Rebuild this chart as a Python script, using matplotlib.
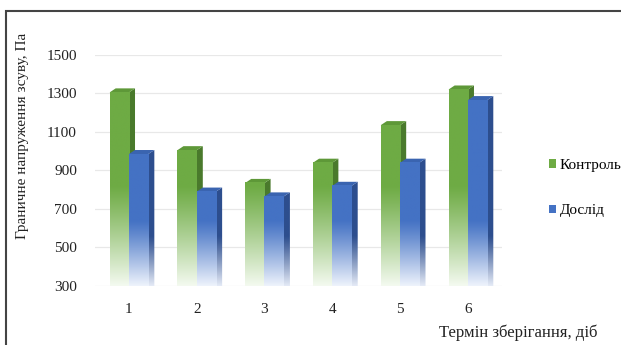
import numpy as np
import matplotlib
matplotlib.use("Agg")
import matplotlib.pyplot as plt
from matplotlib.patches import Polygon, Rectangle, Patch
from matplotlib.colors import to_rgba

categories = ["1", "2", "3", "4", "5", "6"]
control = [1305, 1005, 835, 940, 1135, 1320]
experiment = [985, 790, 765, 820, 940, 1265]
series_names = ["Контроль", "Дослід"]
yticks = [300, 500, 700, 900, 1100, 1300, 1500]

plt.rcParams["font.family"] = ["Liberation Serif", "DejaVu Serif"]

fig = plt.figure(figsize=(6.21, 3.45), dpi=100)
ax = fig.add_axes([0.153, 0.171, 0.655, 0.670])
ax.set_xlim(0.5, 6.5)
ax.set_ylim(300, 1500)
ax.set_yticks(yticks)
ax.set_xticks(np.arange(1, len(categories) + 1))
ax.set_xticklabels(categories)
ax.tick_params(length=0, labelsize=11, colors="#222222", pad=12)
ax.tick_params(axis="y", pad=13)
for s in ax.spines.values():
    s.set_visible(False)
ax.grid(axis="y", color="#E8E8E8", linewidth=0.9)
ax.set_axisbelow(True)

base = 300
width = 0.285
dx = 0.09
dy = 21


def grad_image(x0, x1, top, color, fade_top, white, clip=None, z=3):
    n = 200
    vals = np.linspace(top, base, n)
    c = np.array(to_rgba(color))
    w = np.array(to_rgba(white))
    t = np.clip((fade_top - vals) / (fade_top - base), 0, 1) ** 1.1
    arr = (1 - t)[:, None] * c[None, :] + t[:, None] * w[None, :]
    img = ax.imshow(arr[:, None, :], extent=[x0, x1, base, top], aspect="auto",
                    zorder=z, interpolation="bilinear")
    if clip is not None:
        img.set_clip_path(clip)
    else:
        img.set_clip_on(False)
    return img


styles = [
    dict(front="#6EAB44", side="#4A7A2C", topc="#5E9838", fade=820, white="#F4FAF0", sidewhite="#EEF5E8"),
    dict(front="#4472C4", side="#2D4E8E", topc="#3A64B0", fade=640, white="#EEF3FC", sidewhite="#E4EAF6"),
]

for si, vals in enumerate([control, experiment]):
    st = styles[si]
    for i, v in enumerate(vals):
        xc = i + 1
        x0 = xc - width if si == 0 else xc
        x1 = x0 + width
        z = 3 + si * 3
        # side face
        side = Polygon([[x1, base], [x1, v], [x1 + dx, v + dy], [x1 + dx, base]],
                       closed=True, facecolor="none", edgecolor="none", zorder=z)
        ax.add_patch(side)
        grad_image(x1, x1 + dx, v + dy, st["side"], st["fade"] - 80, st["sidewhite"], clip=side, z=z)
        # top face
        topf = Polygon([[x0, v], [x0 + dx, v + dy], [x1 + dx, v + dy], [x1, v]],
                       closed=True, facecolor=st["topc"], edgecolor="none", zorder=z + 1)
        ax.add_patch(topf)
        # front face
        grad_image(x0, x1, v, st["front"], st["fade"], st["white"], z=z + 2)

ax.set_xlim(0.5, 6.5)
ax.set_ylim(300, 1500)

handles = [Patch(facecolor=styles[0]["front"]), Patch(facecolor=styles[1]["front"])]
fig.legend(handles, series_names, loc="center left", bbox_to_anchor=(0.872, 0.455),
           frameon=False, fontsize=11, handlelength=0.45, handleheight=0.45,
           handletextpad=0.25, labelspacing=2.1, borderpad=0)

fig.text(0.036, 0.605, "Граничне напруження зсуву, Па", rotation=90,
         ha="center", va="center", fontsize=11, color="#222222")
fig.text(0.835, 0.035, "Термін зберігання, діб", ha="center", va="center",
         fontsize=12, color="#222222")

fig.patches.append(Rectangle((0.0097, -0.05), 1.05, 1.018, transform=fig.transFigure,
                             fill=False, edgecolor="#444444", linewidth=1.5))

fig.savefig("out.png", dpi=100)
